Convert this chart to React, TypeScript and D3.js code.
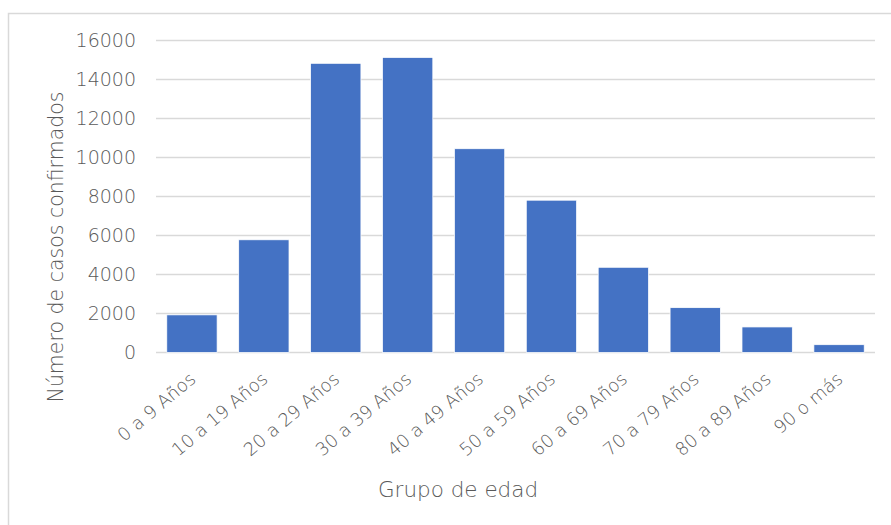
import React from "react";
import * as d3 from "d3";

const categories = ["0 a 9 Años", "10 a 19 Años", "20 a 29 Años", "30 a 39 Años", "40 a 49 Años", "50 a 59 Años", "60 a 69 Años", "70 a 79 Años", "80 a 89 Años", "90 o más"];
const casos = [1930, 5780, 14830, 15130, 10450, 7810, 4370, 2300, 1310, 400];
const yTicks = [0, 2000, 4000, 6000, 8000, 10000, 12000, 14000, 16000];

const W = 891, H = 525;
const left = 156, right = 875, top = 40.5, bottom = 352.5;
const FONT = "'DejaVu Sans', sans-serif";
const TXT = "#595959";
const WEIGHT = 200;

export default function App() {
  const x = d3.scaleBand().domain(categories).range([left, right]).paddingInner(0.3).paddingOuter(0.15);
  const y = d3.scaleLinear().domain([0, 16000]).range([bottom, top]);
  return (
    <svg width={W} height={H} style={{ position: "absolute", left: 0, top: 0, background: "#fff" }}>
      <rect x={8.5} y={13.5} width={900} height={530} fill="#fff" stroke="#d9d9d9" strokeWidth={1.5} />
      {yTicks.map((t) => (
        <g key={t}>
          <line x1={left} x2={right} y1={y(t)} y2={y(t)} stroke="#d9d9d9" strokeWidth={1.5} />
          <text x={136} y={y(t)} dy="0.36em" textAnchor="end" fontFamily={FONT} fontWeight={WEIGHT} fontSize={19} fill={TXT}>{t}</text>
        </g>
      ))}
      {categories.map((c, i) => (
        <rect key={c} x={x(c)} y={y(casos[i])} width={x.bandwidth()} height={y(0) - y(casos[i])} fill="#4472c4" stroke="#fff" strokeWidth={0.75} />
      ))}
      {categories.map((c) => {
        const cx = (x(c) as number) + x.bandwidth() / 2 + 5;
        const cy = 381;
        return (
          <text key={c} x={cx} y={cy} textAnchor="end" transform={`rotate(-40 ${cx} ${cy})`} fontFamily={FONT} fontWeight={WEIGHT} fontSize={18} fill={TXT}>{c}</text>
        );
      })}
      <text x={458} y={497} textAnchor="middle" fontFamily={FONT} fontWeight={WEIGHT} fontSize={21.5} fill={TXT}>Grupo de edad</text>
      <text transform={`translate(63 247) rotate(-90)`} textAnchor="middle" fontFamily={FONT} fontWeight={WEIGHT} fontSize={20.5} fill={TXT}>Número de casos confirmados</text>
    </svg>
  );
}
